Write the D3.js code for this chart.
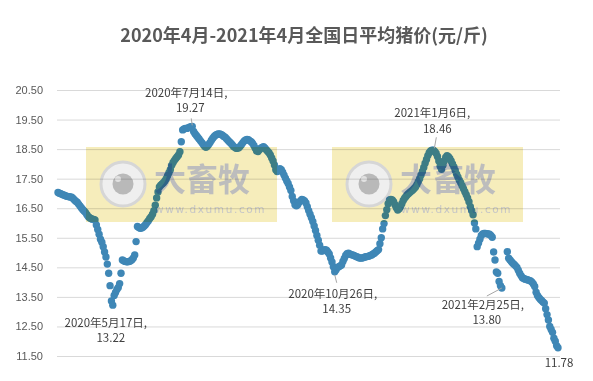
<!DOCTYPE html>
<html lang="zh">
  <head>
    <meta charset="utf-8">
    <title>全国日平均猪价</title>
    <style>
      body { margin: 0; background: #fff; }
      svg { display: block; font-family: "Noto Sans CJK SC", "Noto Sans", sans-serif; }
      .grid line { stroke: #d9d9d9; stroke-width: 1; }
      .grid text { fill: #595959; font-size: 11px; }
      .note { fill: #404040; font-size: 11.5px; text-anchor: middle; }
      .leader { stroke: #a6a6a6; stroke-width: 1; }
      .mark { mix-blend-mode: multiply; }
    </style>
  </head>
  <body>
<svg width="593" height="381"></svg>
<script src="https://d3js.org/d3.v7.min.js"></script>
<script>

// daily price, one array per month, index = day of month - 1 (null = no data)
var apr2020 = [null, null, null, null, null, null,
  17.03, 17.01, 16.99, 16.97, 16.95, 16.93, 16.91, 16.90, 16.89, 16.88, 16.87, 16.83,
  16.78, 16.74, 16.70, 16.64, 16.58, 16.52, 16.46, 16.41, 16.36, 16.29, 16.22, 16.18];
var may2020 = [16.15, 16.13, 16.12, 16.10, 15.93, 15.78, 15.62, 15.45, 15.35, 15.20,
  15.02, 14.85, 14.61, 14.30, 13.88, 13.36, 13.22, 13.55, 13.65, 13.75,
  13.82, 13.95, 14.30, 14.75, 14.72, 14.70, 14.69, 14.69, 14.70, 14.72, 14.76];
var jun2020 = [14.82, 14.92, 15.37, 15.88, 15.85, 15.82, 15.83, 15.86, 15.90, 15.95,
  16.02, 16.08, 16.15, 16.21, 16.30, 16.42, 16.60, 16.85, 17.05, 17.22,
  17.28, 17.32, 17.36, 17.42, 17.50, 17.60, 17.70, 17.80, 17.95, 18.05];
var jul2020 = [18.12, 18.18, 18.24, 18.30, 18.41, 18.75, 19.15, 19.18, 19.20, 19.20,
  19.22, 19.24, 19.26, 19.27, 19.10, 19.02, 18.96, 18.90, 18.84, 18.78,
  18.72, 18.66, 18.60, 18.56, 18.60, 18.66, 18.72, 18.80, 18.87, 18.93, 18.97];
var aug2020 = [19.00, 19.01, 19.01, 19.00, 18.97, 18.93, 18.90, 18.85, 18.80, 18.75,
  18.71, 18.66, 18.60, 18.56, 18.53, 18.53, 18.55, 18.60, 18.66, 18.72,
  18.78, 18.81, 18.83, 18.82, 18.78, 18.75, 18.70, 18.62, 18.53, 18.44, 18.42];
var sep2020 = [18.48, 18.53, 18.56, 18.58, 18.54, 18.48, 18.43, 18.38, 18.30, 18.20,
  18.10, 17.96, 17.80, 17.74, 17.80, 17.84, 17.80, 17.72, 17.62, 17.52,
  17.42, 17.34, 17.22, 17.10, 16.90, 16.75, 16.62, 16.58, 16.62, 16.70];
var oct2020 = [16.75, 16.80, 16.78, 16.75, 16.68, 16.55, 16.42, 16.30, 16.18, 16.05,
  15.90, 15.75, 15.58, 15.42, 15.25, 15.05, 15.05, 15.09, 15.10, 15.08,
  15.02, 14.95, 14.82, 14.68, 14.52, 14.35, 14.42, 14.50, 14.52, 14.55, 14.58];
var nov2020 = [14.70, 14.80, 14.90, 14.96, 14.98, 14.95, 14.93, 14.92, 14.90, 14.88,
  14.86, 14.84, 14.82, 14.81, 14.82, 14.83, 14.85, 14.86, 14.87, 14.88,
  14.90, 14.92, 14.95, 14.98, 15.02, 15.06, 15.10, 15.30, 15.50, 15.80];
var dec2020 = [15.98, 16.25, 16.45, 16.65, 16.78, 16.80, 16.78, 16.72, 16.62, 16.52,
  16.44, 16.48, 16.55, 16.65, 16.76, 16.84, 16.90, 16.96, 17.00, 17.04,
  17.08, 17.12, 17.17, 17.22, 17.30, 17.40, 17.50, 17.62, 17.74, 17.88, 18.02];
var jan2021 = [18.15, 18.28, 18.38, 18.44, 18.46, 18.46, 18.42, 18.36, 18.25, 18.10,
  17.92, 17.82, 17.95, 18.10, 18.22, 18.28, 18.24, 18.18, 18.10, 18.00,
  17.90, 17.78, 17.65, 17.55, 17.45, 17.36, 17.26, 17.16, 17.06, 16.96, 16.85];
var feb2021 = [16.72, 16.55, 16.42, 16.28, 16.00, 15.80, 15.20, 15.32, 15.45, 15.58,
  15.63, 15.65, 15.65, 15.64, 15.63, 15.62, 15.58, 15.52, 15.02, 14.75,
  14.34, 14.30, 14.02, 13.88, 13.80, null, null, null];
var mar2021 = [15.03, 14.81, 14.75, 14.69, 14.64, 14.60, 14.55, 14.50, 14.40, 14.30,
  14.22, 14.15, 14.12, 14.10, 14.09, 14.07, 14.06, 14.04, 14.00, 13.94,
  13.85, 13.66, 13.55, 13.48, 13.42, 13.38, 13.33, 13.29, 13.10, 12.90, 12.72];
var apr2021 = [12.50, 12.40, 12.30, 12.10, 12.00, 11.85, 11.78];

var months = ["2020-04", "2020-05", "2020-06", "2020-07", "2020-08", "2020-09", "2020-10",
  "2020-11", "2020-12", "2021-01", "2021-02", "2021-03", "2021-04"];
var monthValues = [apr2020, may2020, jun2020, jul2020, aug2020, sep2020, oct2020,
  nov2020, dec2020, jan2021, feb2021, mar2021, apr2021];

var yTicks = [11.5, 12.5, 13.5, 14.5, 15.5, 16.5, 17.5, 18.5, 19.5, 20.5];
var marked = ["2020-05-17", "2020-07-14", "2020-10-26", "2021-01-06", "2021-02-25", "2021-04-07"];
var title = "2020年4月-2021年4月全国日平均猪价(元/斤)";

var parse = d3.timeParse("%Y-%m-%d");
var data = [];
months.forEach(function(m, i) {
  monthValues[i].forEach(function(v, j) {
    if (v == null) return;
    var key = m + "-" + (j < 9 ? "0" : "") + (j + 1);
    data.push({ key: key, date: parse(key), value: v });
  });
});

var svg = d3.select("svg");

var x = d3.scaleTime()
    .domain(d3.extent(data, function(d) { return d.date; }))
    .range([58, 558]);

var y = d3.scaleLinear()
    .domain([11.5, 20.5])
    .range([356, 90]);

svg.append("text")
    .attr("x", 304)
    .attr("y", 42)
    .attr("text-anchor", "middle")
    .style("font-size", "18px")
    .style("font-weight", "bold")
    .style("fill", "#595959")
    .text(title);

var grid = svg.append("g")
    .attr("class", "grid")
    .attr("transform", "translate(57,0)")
    .call(d3.axisLeft(y)
      .tickValues(yTicks)
      .tickFormat(d3.format(".2f"))
      .tickSize(-503)
      .tickPadding(14));
grid.select(".domain").remove();

svg.append("g")
  .selectAll("circle")
  .data(data)
  .enter().append("circle")
    .attr("cx", function(d) { return x(d.date); })
    .attr("cy", function(d) { return y(d.value); })
    .attr("r", 3.7)
    .style("fill", "#3f87b6");

// watermark boxes (sit on top, multiplied)
function watermark(left) {
  var g = svg.append("g").attr("class", "mark");
  g.append("rect")
      .attr("x", left).attr("y", 147)
      .attr("width", 191).attr("height", 75)
      .style("fill", "#f6edbb");
  g.append("circle")
      .attr("cx", left + 37).attr("cy", 184).attr("r", 22)
      .style("fill", "#efefef").style("stroke", "#d6d6d6").style("stroke-width", 3);
  g.append("circle")
      .attr("cx", left + 37).attr("cy", 184).attr("r", 10.5)
      .style("fill", "#b9b9b9");
  g.append("circle")
      .attr("cx", left + 32).attr("cy", 179).attr("r", 3)
      .style("fill", "#e2e2e2");
  g.append("text")
      .attr("x", left + 68).attr("y", 191)
      .style("font-size", "32px").style("font-weight", "bold")
      .style("fill", "#bdbdbd")
      .text("大畜牧");
  g.append("text")
      .attr("x", left + 69).attr("y", 213)
      .style("font-family", "DejaVu Sans").style("font-size", "10.5px")
      .style("letter-spacing", "1.6px")
      .style("fill", "#c6c6c6")
      .text("www.dxumu.com");
}
watermark(86);
watermark(332);

// data labels: [dx1, dy1, dx2, dy2, leader]
var place = {
  "2020-05-17": [-7, 22, -2, 37, null],
  "2020-07-14": [-6, -29, -2, -14, [-1, -8, 0, -1]],
  "2020-10-26": [-2, 26, 2, 41, [0, 3, 2, 11]],
  "2021-01-06": [-1, -33, 4, -17, [1, -2, 3, -13]],
  "2021-02-25": [-19, 21, -15, 36, [0, 0, -15, 8]],
  "2021-04-07": [null, null, 1, 19, null]
};
var fmt = d3.timeFormat("%Y年%-m月%-d日,");

data.filter(function(d) { return marked.indexOf(d.key) >= 0; }).forEach(function(d) {
  var p = place[d.key], px = x(d.date), py = y(d.value);
  if (p[4]) {
    svg.append("line").attr("class", "leader")
        .attr("x1", px + p[4][0]).attr("y1", py + p[4][1])
        .attr("x2", px + p[4][2]).attr("y2", py + p[4][3]);
  }
  if (p[0] != null) {
    svg.append("text").attr("class", "note")
        .attr("x", px + p[0]).attr("y", py + p[1])
        .text(fmt(d.date));
  }
  svg.append("text").attr("class", "note")
      .attr("x", px + p[2]).attr("y", py + p[3])
      .text(d.value.toFixed(2));
});

</script>
  </body>
</html>
